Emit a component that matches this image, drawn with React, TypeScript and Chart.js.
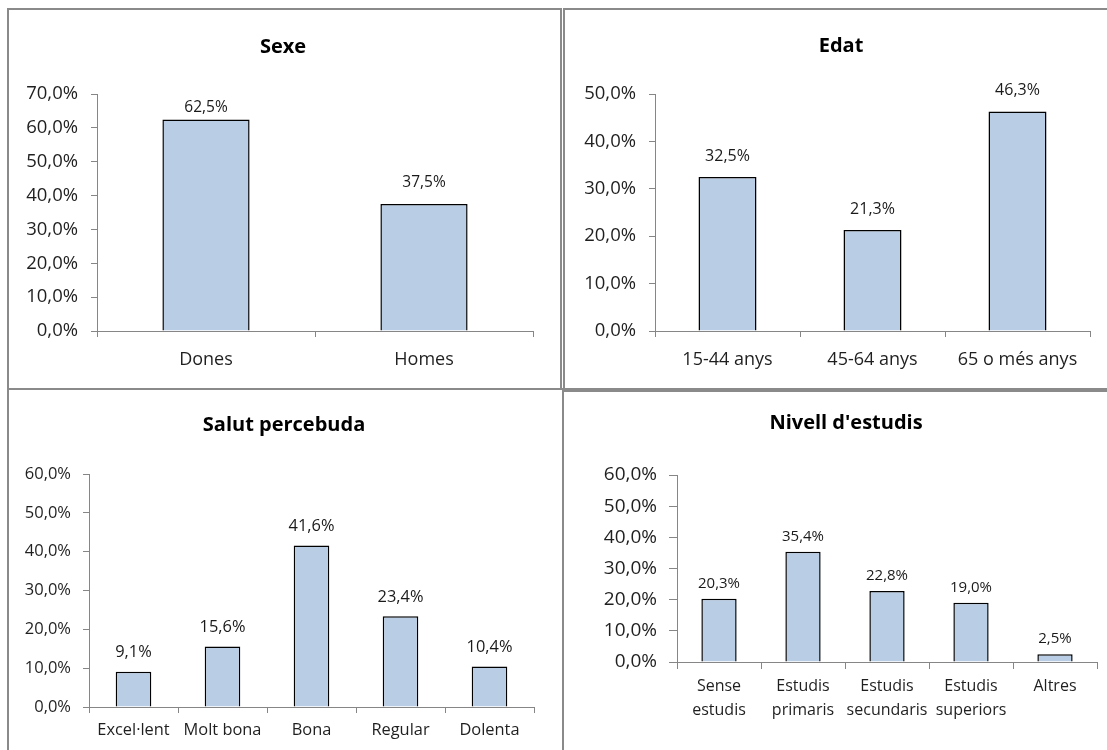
import React, { useEffect, useRef } from "react";
import { Chart, registerables } from "chart.js";

Chart.register(...registerables);

// ---- Data ----
const sexCategories = ["Dones", "Homes"];
const sexValues = [62.5, 37.5];
const sexAxisMax = 70;

const ageCategories = ["15-44 anys", "45-64 anys", "65 o més anys"];
const ageValues = [32.5, 21.3, 46.3];
const ageAxisMax = 50;

const healthCategories = ["Excel·lent", "Molt bona", "Bona", "Regular", "Dolenta"];
const healthValues = [9.1, 15.6, 41.6, 23.4, 10.4];
const healthAxisMax = 60;

const eduCategories = [
  ["Sense", "estudis"],
  ["Estudis", "primaris"],
  ["Estudis", "secundaris"],
  ["Estudis", "superiors"],
  ["Altres"],
];
const eduValues = [20.3, 35.4, 22.8, 19.0, 2.5];
const eduAxisMax = 60;

const titles = ["Sexe", "Edat", "Salut percebuda", "Nivell d'estudis"];

// ---- Styles ----
const FONT = "'Open Sans', 'Noto Sans', sans-serif";
const AXIS_COLOR = "#868686";
const BAR_FILL = "#B9CDE5";
const BAR_BORDER = "#000000";
const BORDER = "#8a8a8a";

const fmt = (v: number) => v.toFixed(1).replace(".", ",") + "%";

type PanelSpec = {
  left: number;
  top: number;
  width: number;
  height: number;
  labels: any[];
  values: number[];
  max: number;
  title: string;
  titleX: number;
  titleY: number;
  yWidth: number;
  xHeight: number;
  padding: { left: number; right: number; top: number; bottom: number };
  yTickFont: number;
  yTickPad: number;
  yTickLen: number;
  xTickFont: number;
  xTickPad: number;
  xTickLen: number;
  xLineHeight: number;
  labelFont: number;
  labelLift: number;
  labelMinTop?: number;
  barPct: number;
};

function ChartPanel({ spec }: { spec: PanelSpec }) {
  const ref = useRef<HTMLCanvasElement | null>(null);
  useEffect(() => {
    if (!ref.current) return;
    const s = spec;
    const overlay = {
      id: "overlay" + s.title,
      afterDatasetsDraw(chart: any) {
        const ctx = chart.ctx;
        const meta = chart.getDatasetMeta(0);
        ctx.save();
        ctx.font = `${s.labelFont}px ${FONT}`;
        ctx.fillStyle = "#1a1a1a";
        ctx.textAlign = "center";
        ctx.textBaseline = "middle";
        meta.data.forEach((bar: any, i: number) => {
          let y = bar.y - s.labelLift;
          if (s.labelMinTop !== undefined) {
            y = Math.max(y, chart.chartArea.top + s.labelMinTop);
          }
          ctx.fillText(fmt(s.values[i]), bar.x, y);
        });
        ctx.restore();
      },
      afterDraw(chart: any) {
        const ctx = chart.ctx;
        ctx.save();
        ctx.font = `bold 20px ${FONT}`;
        ctx.fillStyle = "#000";
        ctx.textAlign = "center";
        ctx.textBaseline = "middle";
        ctx.fillText(s.title, s.titleX - s.left, s.titleY - s.top);
        ctx.restore();
      },
    };
    const chart = new Chart(ref.current, {
      type: "bar",
      data: {
        labels: s.labels,
        datasets: [
          {
            data: s.values,
            backgroundColor: BAR_FILL,
            borderColor: BAR_BORDER,
            borderWidth: 1.5,
            barPercentage: s.barPct,
            categoryPercentage: 1,
          },
        ],
      },
      options: {
        animation: false,
        responsive: false,
        maintainAspectRatio: false,
        devicePixelRatio: 1,
        layout: { padding: s.padding },
        plugins: {
          legend: { display: false },
          title: { display: false },
          tooltip: { enabled: false },
        },
        scales: {
          x: {
            type: "category",
            offset: true,
            afterFit: (scale: any) => {
              scale.height = s.xHeight;
            },
            grid: {
              display: true,
              offset: true,
              drawOnChartArea: false,
              drawTicks: true,
              tickLength: s.xTickLen,
              color: AXIS_COLOR,
            },
            border: { display: true, color: AXIS_COLOR, width: 1 },
            ticks: {
              color: "#1f1f1f",
              font: { family: FONT, size: s.xTickFont, lineHeight: s.xLineHeight },
              padding: s.xTickPad,
              maxRotation: 0,
              minRotation: 0,
              autoSkip: false,
            },
          },
          y: {
            min: 0,
            max: s.max,
            afterFit: (scale: any) => {
              scale.width = s.yWidth;
            },
            grid: {
              display: true,
              drawOnChartArea: false,
              drawTicks: true,
              tickLength: s.yTickLen,
              color: AXIS_COLOR,
            },
            border: { display: true, color: AXIS_COLOR, width: 1 },
            ticks: {
              stepSize: 10,
              color: "#1f1f1f",
              font: { family: FONT, size: s.yTickFont },
              padding: s.yTickPad,
              callback: (v: any) => fmt(Number(v)),
            },
          },
        },
      },
      plugins: [overlay],
    });
    return () => chart.destroy();
  }, [spec]);
  return (
    <canvas
      ref={ref}
      width={spec.width}
      height={spec.height}
      style={{
        position: "absolute",
        left: spec.left,
        top: spec.top,
        width: spec.width,
        height: spec.height,
      }}
    />
  );
}

const specs: PanelSpec[] = [
  {
    left: 9, top: 10, width: 551, height: 378,
    labels: sexCategories, values: sexValues, max: sexAxisMax,
    title: titles[0], titleX: 283, titleY: 47,
    yWidth: 80, xHeight: 50,
    padding: { left: 8, right: 27, top: 84, bottom: 7 },
    yTickFont: 18.5, yTickPad: 13, yTickLen: 6,
    xTickFont: 18, xTickPad: 12, xTickLen: 6, xLineHeight: 1.2,
    labelFont: 15.5, labelLift: 21, labelMinTop: 14, barPct: 0.4,
  },
  {
    left: 565, top: 10, width: 542, height: 378,
    labels: ageCategories, values: ageValues, max: ageAxisMax,
    title: titles[1], titleX: 841, titleY: 46,
    yWidth: 80, xHeight: 50,
    padding: { left: 10, right: 17, top: 84, bottom: 7 },
    yTickFont: 18.5, yTickPad: 13, yTickLen: 6,
    xTickFont: 18, xTickPad: 12, xTickLen: 6, xLineHeight: 1.2,
    labelFont: 16, labelLift: 21, barPct: 0.4,
  },
  {
    left: 9, top: 391, width: 552, height: 359,
    labels: healthCategories, values: healthValues, max: healthAxisMax,
    title: titles[2], titleX: 284, titleY: 425,
    yWidth: 72, xHeight: 36,
    padding: { left: 8, right: 27, top: 83, bottom: 7 },
    yTickFont: 16.5, yTickPad: 12, yTickLen: 6,
    xTickFont: 16.4, xTickPad: 7, xTickLen: 6, xLineHeight: 1.2,
    labelFont: 16.4, labelLift: 19, barPct: 0.4,
  },
  {
    left: 565, top: 393, width: 542, height: 357,
    labels: eduCategories, values: eduValues, max: eduAxisMax,
    title: titles[3], titleX: 846, titleY: 423,
    yWidth: 90, xHeight: 70,
    padding: { left: 22, right: 10, top: 82, bottom: 18 },
    yTickFont: 19, yTickPad: 12, yTickLen: 8,
    xTickFont: 16, xTickPad: 5, xTickLen: 7, xLineHeight: 1.5,
    labelFont: 15, labelLift: 15, barPct: 0.42,
  },
];

const boxes = [
  { left: 7, top: 8, width: 555, height: 382 },
  { left: 563, top: 8, width: 600, height: 382 },
  { left: 7, top: 388, width: 557, height: 420 },
  { left: 562, top: 390, width: 600, height: 420 },
];

export default function App() {
  return (
    <div
      style={{
        position: "absolute",
        left: 0,
        top: 0,
        width: 1107,
        height: 750,
        overflow: "hidden",
        background: "#fff",
      }}
    >
      {boxes.map((b, i) => (
        <div
          key={"b" + i}
          style={{
            position: "absolute",
            left: b.left,
            top: b.top,
            width: b.width,
            height: b.height,
            boxSizing: "border-box",
            border: `2px solid ${BORDER}`,
          }}
        />
      ))}
      {specs.map((s, i) => (
        <ChartPanel key={"c" + i} spec={s} />
      ))}
    </div>
  );
}
